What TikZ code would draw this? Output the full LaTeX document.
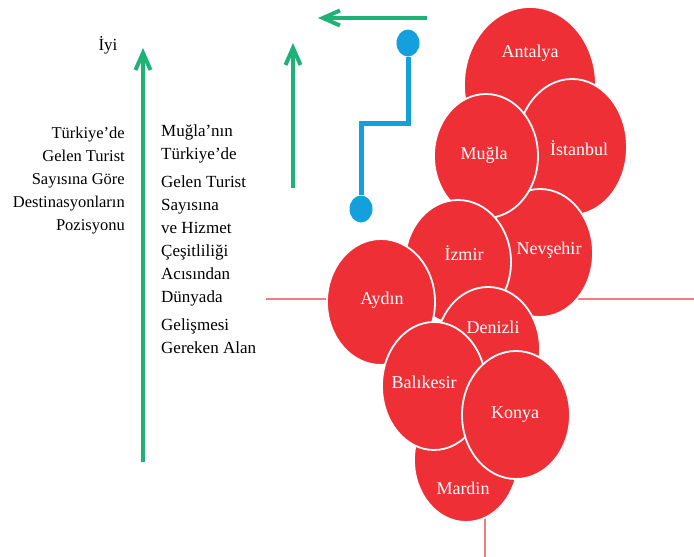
\documentclass[tikz,border=0pt]{standalone}
\usepackage{fontspec}
\setmainfont{Liberation Serif}
\usepackage{xcolor}
\usepackage{tikz}
\usetikzlibrary{arrows.meta,positioning,shapes.geometric}

\definecolor{axisgreen}{RGB}{30,178,120}
\definecolor{pathblue}{RGB}{20,160,220}
\definecolor{cityred}{RGB}{238,47,54}
\definecolor{axisred}{RGB}{240,128,128}

\begin{document}
\begin{tikzpicture}[x=1pt, y=-1pt,
  txt/.style={inner sep=0pt, font=\fontsize{17}{23}\selectfont},
  greenarrow/.style={draw=axisgreen, line width=4pt, -{Straight Barb[length=17pt, width=15pt]}},
  bluedot/.style={ellipse, fill=pathblue, minimum width=23pt, minimum height=27pt, inner sep=0pt},
  city/.style={ellipse, fill=cityred, draw=white, line width=1.8pt, inner sep=0pt},
  citylabel/.style={inner sep=0pt, text=white, font=\fontsize{18}{22}\selectfont}]
  \useasboundingbox (0,0) rectangle (694,557);
  % axes behind the bubbles
  \coordinate (axl) at (266,299);
  \coordinate (axr) at (694,299);
  \coordinate (axt) at (485,299);
  \coordinate (axb) at (485,557);
  \draw[axisred, line width=1.2pt] (axl) -- (axr);
  \draw[axisred, line width=1.2pt] (axt) -- (axb);
  % green arrows
  \coordinate (ga1) at (143,462);
  \coordinate (ga1t) at (143,48);
  \coordinate (ga2) at (293,188);
  \coordinate (ga2t) at (293,43);
  \coordinate (ga3) at (427,18);
  \coordinate (ga3t) at (318,18);
  \draw[greenarrow] (ga1) -- (ga1t);
  \draw[greenarrow] (ga2) -- (ga2t);
  \draw[greenarrow] (ga3) -- (ga3t);
  % texts
  \node[txt] (iyi) at (108,45) {İyi};
  \node[txt, anchor=east, align=right, font=\fontsize{16.5}{23}\selectfont] (postext) at (125,181)
    {Türkiye’de\\Gelen Turist\\Sayısına Göre\\Destinasyonların\\Pozisyonu};
  \node[txt, anchor=west, align=left] (devtext) at (161,239)
    {Muğla’nın\\Türkiye’de\\[5pt]Gelen Turist\\Sayısına\\ve Hizmet\\Çeşitliliği\\Acısından\\Dünyada\\[5pt]Gelişmesi\\Gereken Alan};
  % blue path
  \node[bluedot] (bdtop) at (408,43) {};
  \node[bluedot] (bdbot) at (361,209) {};
  \coordinate (bk1) at (408,123);
  \coordinate (bk2) at (361,123);
  \draw[pathblue, line width=5pt] (bdtop) -- (bk1) -- (bk2) -- (bdbot);
  % bubbles
  \node[city, minimum width=132pt, minimum height=156pt] (antalya) at (530,85) {};
  \node[citylabel] (antalyatxt) at (530,53) {Antalya};
  \node[city, minimum width=110pt, minimum height=136pt] (istanbul) at (572,147) {};
  \node[citylabel] (istanbultxt) at (579,148) {İstanbul};
  \node[city, minimum width=106pt, minimum height=128pt] (nevsehir) at (540,253) {};
  \node[citylabel] (nevsehirtxt) at (549,250) {Nevşehir};
  \node[city, minimum width=104pt, minimum height=124pt] (mugla) at (486,156) {};
  \node[citylabel] (muglatxt) at (484,155) {Muğla};
  \node[city, minimum width=106pt, minimum height=124pt] (izmir) at (458,262) {};
  \node[citylabel] (izmirtxt) at (464,253) {İzmir};
  \node[city, minimum width=108pt, minimum height=126pt] (aydin) at (381,302) {};
  \node[citylabel] (aydintxt) at (382,300) {Aydın};
  \node[city, minimum width=104pt, minimum height=124pt] (denizli) at (488,349) {};
  \node[citylabel] (denizlitxt) at (493,327) {Denizli};
  \node[city, minimum width=104pt, minimum height=124pt] (mardin) at (466,460) {};
  \node[citylabel] (mardintxt) at (463,488) {Mardin};
  \node[city, minimum width=104pt, minimum height=128pt] (balikesir) at (434,386) {};
  \node[citylabel] (balikesirtxt) at (424,382) {Balıkesir};
  \node[city, minimum width=108pt, minimum height=128pt] (konya) at (516,415) {};
  \node[citylabel] (konyatxt) at (515,415) {Konya};
\end{tikzpicture}
\end{document}
